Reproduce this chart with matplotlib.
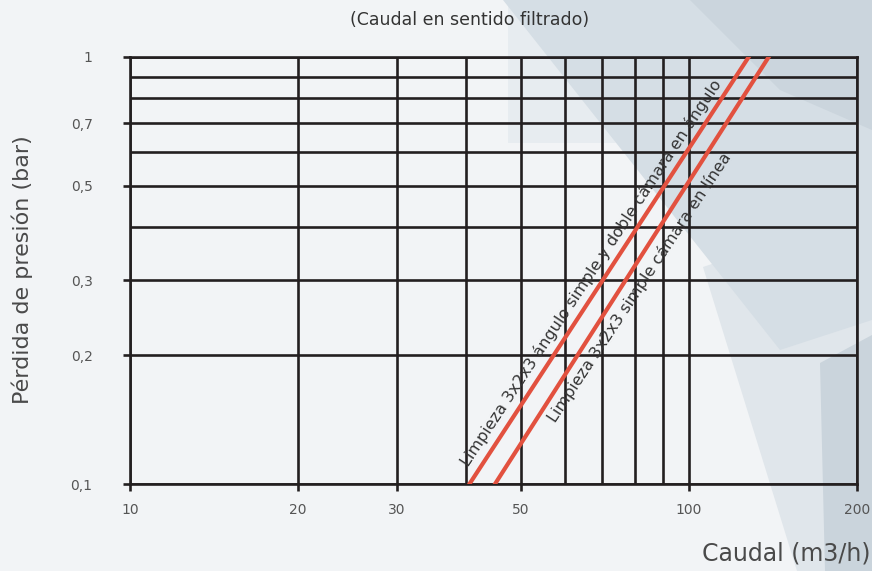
import matplotlib
matplotlib.use("Agg")
import matplotlib.pyplot as plt
from matplotlib.patches import Polygon

plt.rcParams['font.family'] = ['DejaVu Sans']

# caudal (m3/h) y perdida de presion (bar) de cada curva
caudal_angulo = [40.5, 128]
perdida_angulo = [0.1, 1.0]
caudal_linea = [45, 139]
perdida_linea = [0.1, 1.0]

label_angulo = "Limpieza 3x2x3 ángulo simple y doble cámara en ángulo"
label_linea = "Limpieza 3x2x3 simple cámara en línea"

x_major = [10, 20, 30, 50, 100, 200]
x_major_lbl = ['10', '20', '30', '50', '100', '200']
x_minor = [40, 60, 70, 80, 90]
y_major = [0.1, 0.2, 0.3, 0.5, 0.7, 1.0]
y_major_lbl = ['0,1', '0,2', '0,3', '0,5', '0,7', '1']
y_minor = [0.4, 0.6, 0.8, 0.9]

W, H = 872, 571
fig = plt.figure(figsize=(W / 100, H / 100), dpi=100)
fig.patch.set_facecolor('#f2f4f6')

# fondo decorativo (coordenadas en pixeles)
bg = fig.add_axes([0, 0, 1, 1], zorder=-1)
bg.set_xlim(0, W)
bg.set_ylim(H, 0)
bg.axis('off')
shapes = [
    ([(703, 267), (872, 210), (872, 571), (797, 571)], '#e0e6eb'),
    ([(508, 0), (560, 0), (616, 143), (508, 143)], '#e7ecf0'),
    ([(503, 0), (872, 0), (872, 320), (780, 350)], '#d5dee5'),
    ([(690, 0), (872, 0), (872, 130), (780, 90)], '#cbd5dd'),
    ([(820, 363), (872, 335), (872, 571), (825, 571)], '#cad4dc'),
]
for pts, c in shapes:
    bg.add_patch(Polygon(pts, closed=True, facecolor=c, edgecolor='none'))

ax = fig.add_axes([130 / W, 1 - 484 / H, (857 - 130) / W, (484 - 57) / H], zorder=1)
ax.patch.set_alpha(0)
ax.set_xscale('log')
ax.set_yscale('log')
ax.set_xlim(10, 200)
ax.set_ylim(0.1, 1.0)

lw = 1.9
ax.set_xticks(x_major)
ax.set_xticklabels(x_major_lbl)
ax.set_xticks(x_minor, minor=True)
ax.set_yticks(y_major)
ax.set_yticklabels(y_major_lbl)
ax.set_yticks(y_minor, minor=True)
ax.tick_params(which='major', length=5, width=lw, color='#231f20',
               labelsize=10, labelcolor='#555555')
ax.tick_params(axis='y', which='major', pad=22)
ax.tick_params(axis='x', which='major', pad=9)
ax.tick_params(which='minor', length=0)
ax.xaxis.set_minor_formatter(plt.NullFormatter())
ax.yaxis.set_minor_formatter(plt.NullFormatter())
ax.grid(which='both', color='#231f20', linewidth=lw)
for s in ax.spines.values():
    s.set_linewidth(lw)
    s.set_color('#231f20')

ax.plot(caudal_angulo, perdida_angulo, color='#e2513f', linewidth=3, zorder=3)
ax.plot(caudal_linea, perdida_linea, color='#e2513f', linewidth=3, zorder=3)

# etiquetas sobre las curvas
ang = 56.5
ax.annotate(label_angulo, xy=(caudal_angulo[0] * 3 ** 0.5, 0.3), xytext=(-3.5, 2.3),
            textcoords='offset points', rotation=ang, rotation_mode='anchor',
            ha='center', va='bottom', fontsize=11.5, color='#333333')
ax.annotate(label_linea, xy=(caudal_linea[0] * 3 ** 0.5, 0.3), xytext=(3, -2),
            textcoords='offset points', rotation=ang, rotation_mode='anchor',
            ha='center', va='top', fontsize=11.5, color='#333333')

fig.text(470 / W, 1 - 20 / H, "(Caudal en sentido filtrado)", ha='center', va='center',
         fontsize=12.5, color='#333333')
fig.text(22 / W, 1 - 270 / H, "Pérdida de presión (bar)", rotation=90, ha='center',
         va='center', fontsize=16, color='#4a4a4a')
fig.text(870 / W, 1 - 553 / H, "Caudal (m3/h)", ha='right', va='center',
         fontsize=17, color='#4a4a4a')

fig.savefig('out.png', dpi=100, facecolor=fig.get_facecolor())
